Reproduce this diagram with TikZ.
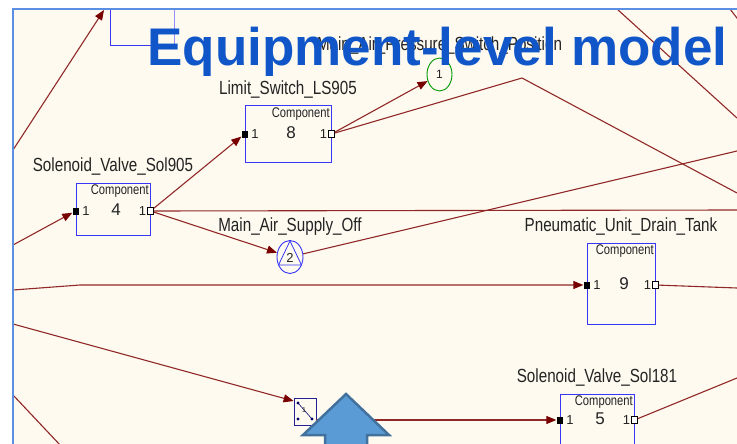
\documentclass[tikz,border=0pt]{standalone}
\usepackage{fontspec}
\setmainfont{Liberation Sans}
\newfontfamily\diagfont[FakeStretch=0.8]{Liberation Sans}
\usetikzlibrary{calc,arrows.meta,shapes.geometric}
\definecolor{paper}{RGB}{254,250,240}
\definecolor{frameblue}{RGB}{90,143,228}
\definecolor{compblue}{RGB}{55,55,245}
\definecolor{wirered}{RGB}{145,40,40}
\definecolor{tipred}{RGB}{120,0,0}
\definecolor{titleblue}{RGB}{16,86,200}
\definecolor{arrowfill}{RGB}{91,155,213}
\definecolor{arrowedge}{RGB}{65,113,156}
\definecolor{ink}{RGB}{35,35,35}

\begin{document}
\begin{tikzpicture}[x=1pt,y=-1pt,
  comp/.style={draw=compblue,line width=1pt,inner sep=0pt},
  inport/.style={fill=black,minimum width=6pt,minimum height=7pt,inner sep=0pt},
  outport/.style={draw=black,fill=white,line width=0.8pt,minimum width=6pt,minimum height=7pt,inner sep=0pt},
  wire/.style={draw=wirered,line width=1.1pt},
  arr/.style={wire,-{Triangle[length=10pt,width=8pt,color=tipred]}},
  lbl/.style={anchor=base,inner sep=0pt,text=ink,font=\diagfont\fontsize{19}{22}\selectfont},
  small/.style={inner sep=0pt,text=ink,font=\fontsize{13}{15}\selectfont}]
  \useasboundingbox (0,0) rectangle (737,444);
  \clip (0,0) rectangle (737,444);
  \fill[white] (0,0) rectangle (737,444);
  \fill[paper] (13,9) rectangle (737,444);

  \foreach \n/\cx/\cy/\w/\h/\py/\num/\lab in {
    ls/288/134/86/56/134/8/Limit\_Switch\_LS905,
    sva/113/209/74/52/211/4/Solenoid\_Valve\_Sol905,
    tank/621/283.5/68/81/285/9/Pneumatic\_Unit\_Drain\_Tank,
    svb/597/420/74/52/420/5/Solenoid\_Valve\_Sol181}{
    \node[comp,minimum width=\w,minimum height=\h] (\n) at (\cx,\cy) {};
    \node[lbl] (\n-lbl) at ($(\n.north)+(0,-11)$) {\lab};
    \node[anchor=north east,inner sep=0pt,text=ink,font=\diagfont\fontsize{14}{16}\selectfont] at ($(\n.north east)+(-1.5,2.5)$) {Component};
    \node[inport] (\n-in) at (\n.west |- 0,\py) {};
    \node[outport] (\n-out) at (\n.east |- 0,\py) {};
    \node[small] at ($(\n-in)+(10.5,0)$) {1};
    \node[small] at ($(\n-out)+(-8,0)$) {1};
    \node[small,font=\fontsize{17}{20}\selectfont] (\n-num) at (\cx+3,\py-1) {\num};
  }

  \node[ellipse,draw=green!60!black,line width=0.9pt,minimum width=25pt,minimum height=33pt,inner sep=0pt,small,font=\fontsize{12}{14}\selectfont] (psw) at (439.5,74.5) {1};
  \node[lbl] at ($(psw.north)+(0,-7.5)$) {Main\_Air\_Pressure\_Switch\_Position};
  \node[ellipse,draw=compblue,line width=0.9pt,minimum width=26pt,minimum height=33pt,inner sep=0pt] (airoff) at (290,257) {};
  \draw[compblue,line width=0.8pt] ($(airoff)+(0,-16)$) -- ($(airoff)+(-11.5,8)$) -- ($(airoff)+(11.5,8)$) -- cycle;
  \node[small] at ($(airoff)+(0,1)$) {2};
  \node[lbl] at ($(airoff.north)+(0,-8.5)$) {Main\_Air\_Supply\_Off};

  \node[draw=compblue!60!black,line width=0.8pt,minimum width=22pt,minimum height=27pt,inner sep=0pt] (gate) at (305,411.5) {};
  \coordinate (g1) at (298,403); \coordinate (g2) at (298,419); \coordinate (g3) at (312,419);
  \draw[blue!40!black,line width=0.6pt] (g1) -- (g3);
  \foreach \p in {g1,g2,g3}\fill[blue!40!black] (\p) circle(1.7pt);
  \node[inner sep=0pt,text=ink,font=\fontsize{7}{8}\selectfont] at (304,410) {1};
  \coordinate (gin) at (gate.west |- 0,401); \coordinate (gout) at (gate.east |- 0,420);

  \draw[compblue] (110,9) |- (174,45);
  \draw[compblue!55] (174,45) -- (174,9);

  \coordinate (lt1) at (13,150); \coordinate (tp1) at (104,10); \coordinate (lt2) at (13,245);
  \coordinate (lt3) at (13,290); \coordinate (bd3) at (80,285); \coordinate (lt4) at (13,324);
  \coordinate (lt5) at (13,395); \coordinate (bt5) at (61,446); \coordinate (tp2) at (617,9);
  \coordinate (rt2) at (737,118); \coordinate (tp3) at (730,9); \coordinate (rt3) at (740,22);
  \coordinate (bd1) at (522,78); \coordinate (rt1) at (737,193); \coordinate (rt4) at (737,151);
  \coordinate (rt5) at (737,210); \coordinate (rt6) at (737,288); \coordinate (rt7) at (737,378);

  \draw[arr] (lt1) -- (tp1);
  \draw[arr] (lt2) -- (sva-in);
  \draw[arr] (sva-out) -- (ls-in);
  \draw[arr] (sva-out) -- (airoff);
  \draw[wire] (sva-out) -- (rt5);
  \draw[arr] (ls-out) -- (psw);
  \draw[wire] (ls-out) -- (bd1) -- (rt1);
  \draw[wire] (airoff) -- (rt4);
  \draw[arr] (lt3) -- (bd3) -- (tank-in);
  \draw[wire] (tank-out) -- (rt6);
  \draw[arr] (lt4) -- (gin);
  \draw[arr] (gout) -- (svb-in);
  \draw[wire] (svb-out) -- (rt7);
  \draw[wire] (lt5) -- (bt5);
  \draw[wire] (tp2) -- (rt2);
  \draw[wire] (tp3) -- (rt3);

  \draw[frameblue,line width=2pt] (13,446) -- (13,9) -- (740,9);

  \node[anchor=base,inner sep=0pt,text=titleblue,font=\fontsize{53}{60}\selectfont\bfseries] (title) at (437.5,66) {Equipment-level model};

  \draw[fill=arrowfill,draw=arrowedge,line width=2.5pt,line join=miter] (346,394) -- (389,435) -- (367,435) -- (367,460) -- (325,460) -- (325,435) -- (303,435) -- cycle;
\end{tikzpicture}
\end{document}
